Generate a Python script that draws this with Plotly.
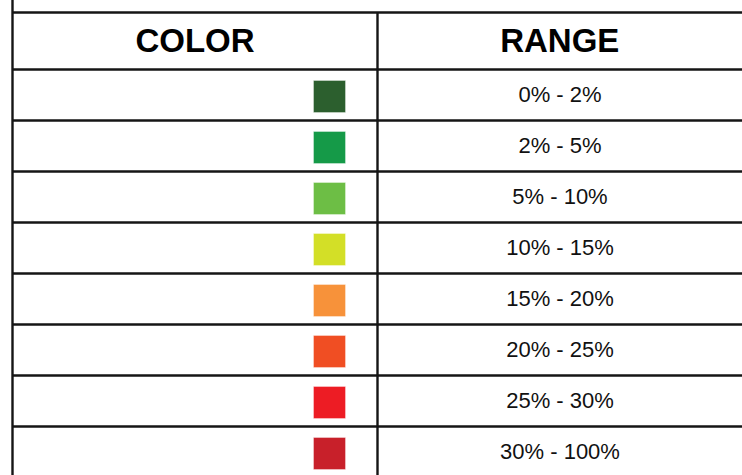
import plotly.graph_objects as go

headers = ["COLOR", "RANGE"]
colors = ["#2c5f2e", "#159a48", "#6dbe45", "#d3df27", "#f7923a", "#f04e23", "#ed1c24", "#c8202a"]
ranges = ["0% - 2%", "2% - 5%", "5% - 10%", "10% - 15%", "15% - 20%", "20% - 25%", "25% - 30%", "30% - 100%"]

W, H = 742, 475
left_x, mid_x, right_x = 12.5, 377.5, 742
top_y, head_y, row_h = 12.5, 69.5, 51

n = len(ranges)
row_centers = [head_y + row_h * (i + 0.5) for i in range(n)]

fig = go.Figure()

shapes = []
line = dict(color="#151515", width=2.4)
ys = [top_y, head_y] + [head_y + row_h * (i + 1) for i in range(n)]
for y in ys:
    if y < H + 5:
        shapes.append(dict(type="line", xref="x", yref="y", x0=left_x, x1=right_x + 5, y0=y, y1=y, line=line))
shapes.append(dict(type="line", xref="x", yref="y", x0=left_x, x1=left_x, y0=-5, y1=H + 5, line=line))
shapes.append(dict(type="line", xref="x", yref="y", x0=mid_x, x1=mid_x, y0=top_y, y1=H + 5, line=line))

fig.add_trace(go.Scatter(
    x=[329.5] * n, y=[c + 1.5 for c in row_centers], mode="markers",
    marker=dict(symbol="square", size=32, color=colors,
                line=dict(width=0.6, color="rgba(255,255,255,0.6)")),
    hoverinfo="skip", showlegend=False,
))
fig.add_trace(go.Scatter(
    x=[560] * n, y=[c + 1 for c in row_centers], mode="text", text=ranges,
    textfont=dict(family="Liberation Sans, Arial, sans-serif", size=22, color="#111"),
    textposition="middle center", hoverinfo="skip", showlegend=False,
))
fig.add_trace(go.Scatter(
    x=[(left_x + mid_x) / 2, (mid_x + right_x) / 2], y=[(top_y + head_y) / 2 + 2.5] * 2,
    mode="text", text=["<b>%s</b>" % h for h in headers],
    textfont=dict(family="Liberation Sans, Arial, sans-serif", size=33, color="#000"),
    textposition="middle center", hoverinfo="skip", showlegend=False,
))

fig.update_layout(
    width=W, height=H, margin=dict(l=0, r=0, t=0, b=0),
    paper_bgcolor="white", plot_bgcolor="white", shapes=shapes,
    xaxis=dict(range=[0, W], visible=False, fixedrange=True),
    yaxis=dict(range=[H, 0], visible=False, fixedrange=True),
)
fig.write_html("out.html", config={"displayModeBar": False},
               post_script="document.body.style.margin='0';document.body.style.overflow='hidden';")
